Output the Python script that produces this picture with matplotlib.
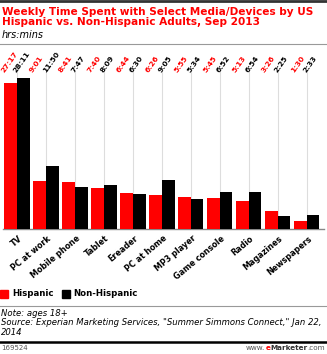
import matplotlib.pyplot as plt
import numpy as np

# Категории и время в формате "ч:мм"
категории = ["TV", "PC at work", "Mobile phone", "Tablet", "Ereader", "PC at home",
             "MP3 player", "Game console", "Radio", "Magazines", "Newspapers"]
hispanic = ["27:17", "9:01", "8:41", "7:40", "6:44", "6:26", "5:55", "5:45", "5:13", "3:26", "1:30"]
non_hispanic = ["28:11", "11:50", "7:47", "8:09", "6:30", "9:05", "5:34", "6:52", "6:54", "2:25", "2:33"]


def в_часы(s):
    h, m = s.split(":")
    return int(h) + int(m) / 60


h_vals = [в_часы(x) for x in hispanic]
n_vals = [в_часы(x) for x in non_hispanic]

КРАСНЫЙ = "#ff0000"
plt.rcParams["font.family"] = ["DejaVu Sans"]

fig = plt.figure(figsize=(3.27, 3.54), dpi=100)
W, H = 327, 354


def fy(px):
    # пиксели сверху -> доля фигуры
    return 1 - px / H


# Шапка
fig.add_artist(plt.Line2D([0, 1], [fy(0.8), fy(0.8)], color="#333333", lw=2))
fig.text(2 / W, fy(17), "Weekly Time Spent with Select Media/Devices by US\nHispanic vs. Non-Hispanic Adults, Sep 2013",
         color=КРАСНЫЙ, fontsize=7.6, fontweight="bold", va="center", ha="left", linespacing=1.05)
fig.text(2 / W, fy(35), "hrs:mins", fontsize=7, style="italic", va="center", ha="left")
fig.add_artist(plt.Line2D([0, 1], [fy(44), fy(44)], color="#999999", lw=0.8))

ВЕРХ = 29.3
ax = fig.add_axes([3 / W, fy(229), 321 / W, 157 / H])
x = np.arange(len(категории))
w = 0.44
ax.bar(x - w / 2, h_vals, w, color=КРАСНЫЙ, zorder=3)
ax.bar(x + w / 2, n_vals, w, color="black", zorder=3)
ax.set_xlim(-0.48, 10.6)
ax.set_ylim(0, ВЕРХ)
ax.set_yticks([])
ax.set_xticks(x)
ax.set_xticklabels([])
ax.tick_params(axis="x", length=0)
ax.grid(axis="x", color="#dddddd", lw=0.8, zorder=0)
for s in ["top", "left", "right"]:
    ax.spines[s].set_visible(False)
ax.spines["bottom"].set_color("#888888")
ax.spines["bottom"].set_linewidth(1)

# Подписи значений над графиком
for i in range(len(категории)):
    ax.annotate(hispanic[i], (x[i] - w, ВЕРХ), xytext=(0.5, -1), textcoords="offset points",
                rotation=55, rotation_mode="anchor", ha="left", va="bottom",
                fontsize=5.4, fontweight="bold", color=КРАСНЫЙ, annotation_clip=False)
    ax.annotate(non_hispanic[i], (x[i], ВЕРХ), xytext=(0.5, -1), textcoords="offset points",
                rotation=55, rotation_mode="anchor", ha="left", va="bottom",
                fontsize=5.4, fontweight="bold", color="black", annotation_clip=False)

# Названия категорий
for i, k in enumerate(категории):
    ax.annotate(k, (x[i], 0), xytext=(0.8, -3.5), textcoords="offset points",
                rotation=40, rotation_mode="anchor", ha="right", va="top",
                fontsize=5.8, fontweight="bold", annotation_clip=False)

# Легенда
fig.patches.append(plt.Rectangle((0, fy(298)), 8 / W, 8 / H, color=КРАСНЫЙ, transform=fig.transFigure))
fig.text(12 / W, fy(294), "Hispanic", fontsize=6.2, fontweight="bold", va="center")
fig.patches.append(plt.Rectangle((62 / W, fy(298)), 8 / W, 8 / H, color="black", transform=fig.transFigure))
fig.text(73 / W, fy(294), "Non-Hispanic", fontsize=6.2, fontweight="bold", va="center")

# Примечание и источник
fig.add_artist(plt.Line2D([0, 1], [fy(306), fy(306)], color="#999999", lw=0.8))
fig.text(1 / W, fy(309),
         "Note: ages 18+\nSource: Experian Marketing Services, \"Summer Simmons Connect,\" Jan 22,\n2014",
         fontsize=6.1, style="italic", va="top", ha="left", linespacing=1.05)
fig.add_artist(plt.Line2D([0, 1], [fy(341.5), fy(341.5)], color="black", lw=1.8))
fig.text(1 / W, fy(348.5), "169524", fontsize=5, color="#555555", va="center")

# Подпись сайта: собираем по кускам справа налево
r = fig.canvas.get_renderer()
правый = 325 / W
for кусок, цвет, жирн in [(".com", "#555555", "normal"), ("Marketer", "#333333", "bold"),
                          ("e", КРАСНЫЙ, "bold"), ("www.", "#555555", "normal")]:
    t = fig.text(правый, fy(348.5), кусок, fontsize=5.2, color=цвет, fontweight=жирн, va="center", ha="right")
    bb = t.get_window_extent(r)
    правый -= bb.width / W

fig.savefig("out.png", dpi=100)
